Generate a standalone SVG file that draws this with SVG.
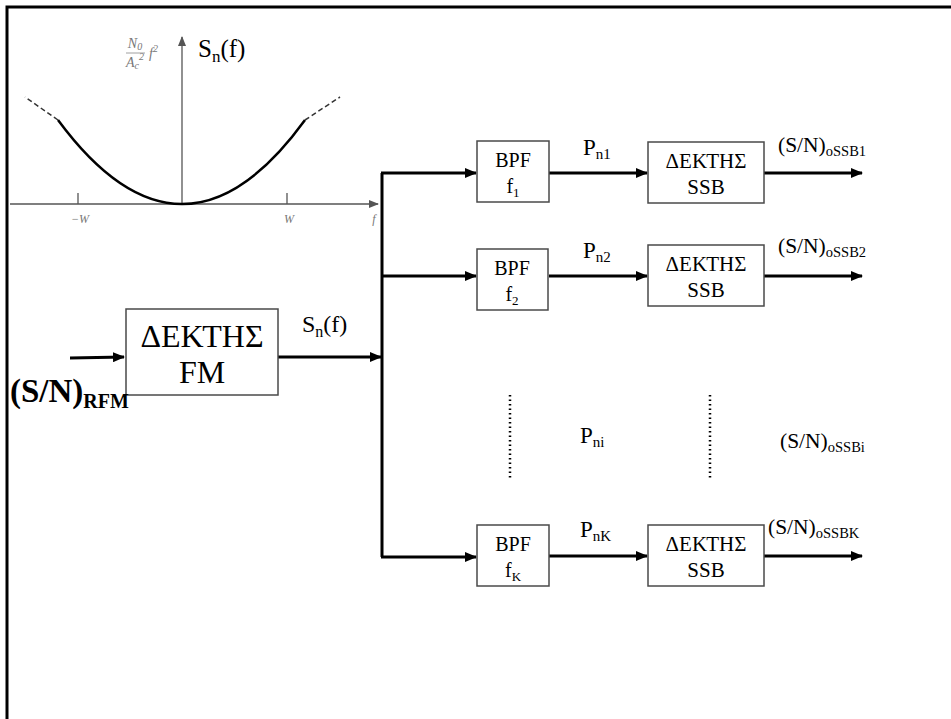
<svg xmlns="http://www.w3.org/2000/svg" width="951" height="719" viewBox="0 0 951 719">
<style>
.t{font-family:'Liberation Serif','Times New Roman','DejaVu Serif',serif;fill:#000}
.box{fill:#fff;stroke:#4a4a4a;stroke-width:1.5}
.wire{stroke:#000;stroke-width:3;fill:none}
.g{font-family:'Liberation Serif','Times New Roman','DejaVu Serif',serif;font-style:italic;fill:#777}
.ax{stroke:#555;stroke-width:1.3;fill:none}
.dot{stroke:#000;stroke-width:2.5;stroke-dasharray:1.5 3;fill:none}
</style>
<defs>
<marker id="ah" markerUnits="userSpaceOnUse" markerWidth="12" markerHeight="10" refX="11" refY="5" orient="auto"><path d="M0,0 L12,5 L0,10 z" fill="#000"/></marker>
<marker id="ga" markerUnits="userSpaceOnUse" markerWidth="10" markerHeight="8" refX="9" refY="4" orient="auto"><path d="M0,0 L10,4 L0,8 z" fill="#555"/></marker>
</defs>

<path d="M7,719 V7 H951" fill="none" stroke="#000" stroke-width="3"/>

<g id="spectrum">
<line class="ax" x1="10" y1="204" x2="378" y2="204" marker-end="url(#ga)"/>
<line class="ax" x1="182" y1="204" x2="182" y2="37" marker-end="url(#ga)"/>
<line class="ax" x1="78" y1="193" x2="78" y2="204"/>
<line class="ax" x1="287" y1="193" x2="287" y2="204"/>
<text class="g" x="80" y="223" font-size="12" text-anchor="middle">−W</text>
<text class="g" x="289" y="223" font-size="12" text-anchor="middle">W</text>
<text class="g" x="374" y="223" font-size="12" text-anchor="middle">f</text>
<path d="M58,120 Q120,204 182,204 Q244,204 305,120" fill="none" stroke="#000" stroke-width="2.5"/>
<path d="M58,120 L25,97 M305,120 L340,97" fill="none" stroke="#333" stroke-width="1.5" stroke-dasharray="5 3"/>
<text class="g" x="135" y="48" font-size="14" text-anchor="middle">N<tspan font-size="10" dy="2">0</tspan></text>
<line x1="126" y1="53" x2="145" y2="53" stroke="#888" stroke-width="0.8"/>
<text class="g" x="135" y="67" font-size="14" text-anchor="middle">A<tspan font-size="10" dy="2">c</tspan><tspan font-size="10" dy="-9">2</tspan></text>
<text class="g" x="149" y="58" font-size="14">f<tspan font-size="10" dy="-6">2</tspan></text>
<text class="t" x="198" y="57" font-size="25">S<tspan font-size="17" dy="5">n</tspan><tspan dy="-5">(f)</tspan></text>
</g>

<g id="connectors">
<path class="wire" d="M70,358 L124,357" marker-end="url(#ah)"/>
<path class="wire" d="M278,357 H381" marker-end="url(#ah)"/>
<path class="wire" d="M382,173 V557"/>
<path class="wire" d="M381,173 H476" marker-end="url(#ah)"/>
<path class="wire" d="M381,276 H476" marker-end="url(#ah)"/>
<path class="wire" d="M381,557 H476" marker-end="url(#ah)"/>
<path class="wire" d="M549,173 H647" marker-end="url(#ah)"/>
<path class="wire" d="M549,276 H647" marker-end="url(#ah)"/>
<path class="wire" d="M549,556 H647" marker-end="url(#ah)"/>
<path class="wire" d="M764,173 H862" marker-end="url(#ah)"/>
<path class="wire" d="M764,276 H862" marker-end="url(#ah)"/>
<path class="wire" d="M764,556 H862" marker-end="url(#ah)"/>
<line class="dot" x1="510" y1="395" x2="510" y2="478"/>
<line class="dot" x1="710" y1="395" x2="710" y2="478"/>
</g>

<g id="fm">
<rect class="box" x="126" y="309" width="152" height="86"/>
<text class="t" x="202" y="347" font-size="32" text-anchor="middle">ΔΕΚΤΗΣ</text>
<text class="t" x="202" y="383" font-size="32" text-anchor="middle">FM</text>
</g>

<g id="bpf1">
<rect class="box" x="477" y="141" width="72" height="61"/>
<text class="t" x="513" y="167" font-size="20" text-anchor="middle">BPF</text>
<text class="t" x="513" y="193" font-size="20" text-anchor="middle">f<tspan font-size="13" dy="4">1</tspan></text>
</g>
<g id="bpf2">
<rect class="box" x="477" y="249" width="71" height="61"/>
<text class="t" x="512" y="275" font-size="20" text-anchor="middle">BPF</text>
<text class="t" x="512" y="301" font-size="20" text-anchor="middle">f<tspan font-size="13" dy="4">2</tspan></text>
</g>
<g id="bpfK">
<rect class="box" x="477" y="525" width="72" height="61"/>
<text class="t" x="513" y="551" font-size="20" text-anchor="middle">BPF</text>
<text class="t" x="513" y="577" font-size="20" text-anchor="middle">f<tspan font-size="13" dy="4">K</tspan></text>
</g>

<g id="ssb1">
<rect class="box" x="648" y="142" width="116" height="61"/>
<text class="t" x="706" y="168" font-size="21" text-anchor="middle">ΔΕΚΤΗΣ</text>
<text class="t" x="706" y="194" font-size="21" text-anchor="middle">SSB</text>
</g>
<g id="ssb2">
<rect class="box" x="648" y="245" width="116" height="61"/>
<text class="t" x="706" y="271" font-size="21" text-anchor="middle">ΔΕΚΤΗΣ</text>
<text class="t" x="706" y="297" font-size="21" text-anchor="middle">SSB</text>
</g>
<g id="ssbK">
<rect class="box" x="648" y="525" width="116" height="61"/>
<text class="t" x="706" y="551" font-size="21" text-anchor="middle">ΔΕΚΤΗΣ</text>
<text class="t" x="706" y="577" font-size="21" text-anchor="middle">SSB</text>
</g>

<g id="labels">
<text class="t" x="10" y="402" font-size="33" font-weight="bold">(S/N)<tspan font-size="20" dy="6">RFM</tspan></text>
<text class="t" x="302" y="332" font-size="24">S<tspan font-size="16" dy="5">n</tspan><tspan dy="-5">(f)</tspan></text>
<text class="t" x="583" y="155" font-size="23">P<tspan font-size="15" dy="4">n1</tspan></text>
<text class="t" x="583" y="258" font-size="23">P<tspan font-size="15" dy="4">n2</tspan></text>
<text class="t" x="580" y="443" font-size="23">P<tspan font-size="15" dy="4">ni</tspan></text>
<text class="t" x="580" y="537" font-size="23">P<tspan font-size="15" dy="4">nK</tspan></text>
<text class="t" x="778" y="152" font-size="21.5">(S/N)<tspan font-size="14.5" dy="4">oSSB1</tspan></text>
<text class="t" x="778" y="253" font-size="21.5">(S/N)<tspan font-size="14.5" dy="4">oSSB2</tspan></text>
<text class="t" x="780" y="448" font-size="21.5">(S/N)<tspan font-size="14.5" dy="4">oSSBi</tspan></text>
<text class="t" x="768" y="534" font-size="21.5">(S/N)<tspan font-size="14.5" dy="4">oSSBK</tspan></text>
</g>
</svg>
